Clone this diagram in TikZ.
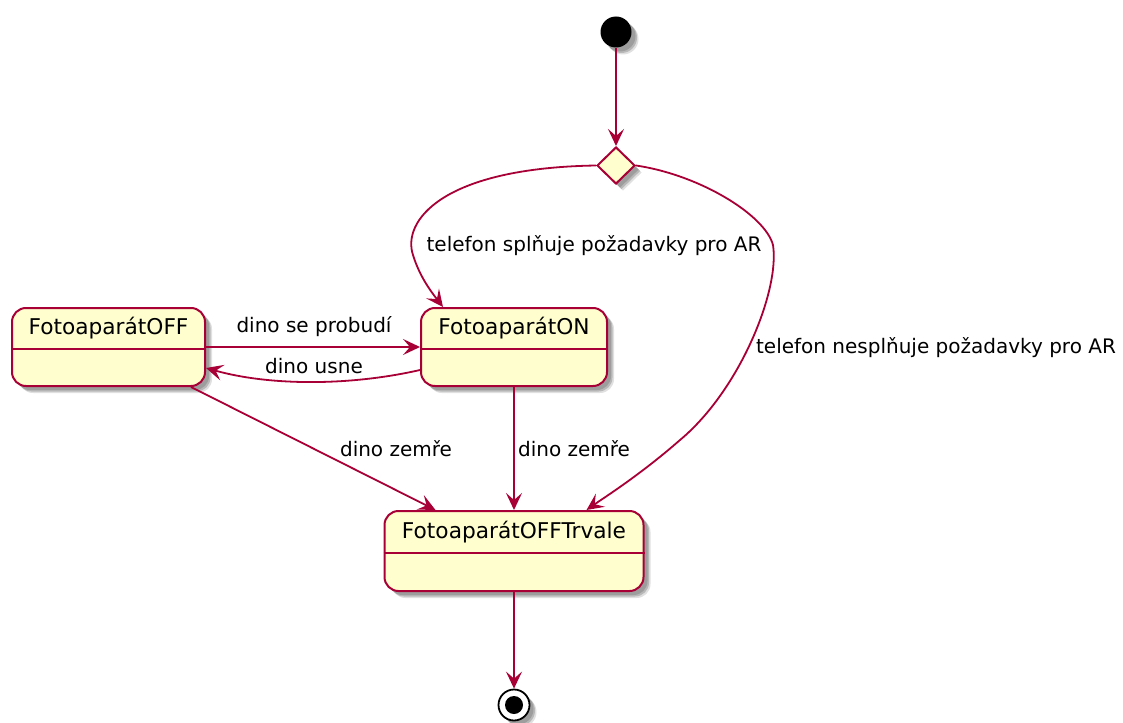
\documentclass[tikz,border=0pt]{standalone}
\usepackage{fontspec}
\setmainfont{DejaVu Sans}
\usetikzlibrary{arrows.meta,shadows,calc,shapes.geometric}
\definecolor{umlborder}{HTML}{A80036}
\definecolor{umlfill}{HTML}{FEFECE}
\tikzset{
  shade3d/.style={
    drop shadow={shadow xshift=7pt,shadow yshift=-7pt,opacity=0.12,fill=black},
    drop shadow={shadow xshift=5.5pt,shadow yshift=-5.5pt,opacity=0.18,fill=black},
    drop shadow={shadow xshift=4pt,shadow yshift=-4pt,opacity=0.15,fill=black}},
  statebox/.style={draw=umlborder,fill=umlfill,line width=2pt,rounded corners=14pt,
    inner sep=0pt,shade3d},
  statename/.style={font=\fontsize{21.7}{26}\selectfont,inner sep=0pt,anchor=center},
  divider/.style={draw=umlborder,line width=1.8pt},
  edge/.style={draw=umlborder,line width=1.8pt,
    -{Stealth[length=17pt,width=16pt,inset=7pt]}},
  elabel/.style={font=\fontsize{20}{24}\selectfont,inner sep=0pt,anchor=center},
  startdot/.style={circle,fill=black,minimum size=31pt,inner sep=0pt,shade3d},
  choice/.style={diamond,draw=umlborder,fill=umlfill,line width=2pt,inner sep=0pt,
    minimum width=38pt,minimum height=37pt,shade3d},
  enddot/.style={circle,draw=black,fill=white,line width=1.8pt,minimum size=31pt,inner sep=0pt,shade3d},
}
\begin{document}
\begin{tikzpicture}[x=1pt,y=-1pt]
\useasboundingbox (0,0) rectangle (1123,722);

% initial and final pseudo-states, decision
\node[startdot] (start) at (616,32) {};
\node[choice] (dec) at (616,165.5) {};
\node[enddot] (end) at (514,705) {};
\node[circle,fill=black,minimum size=18pt,inner sep=0pt] (endcore) at (end.center) {};

% states
\node[statebox,minimum width=193pt,minimum height=78pt] (off) at (108.5,347) {};
\node[statename] (offname) at (108.5,328.5) {FotoaparátOFF};
\draw[divider] (off.west |- 0,349) -- (off.east |- 0,349);

\node[statebox,minimum width=186pt,minimum height=78pt] (on) at (514,347) {};
\node[statename] (onname) at (514,328.5) {FotoaparátON};
\draw[divider] (on.west |- 0,349) -- (on.east |- 0,349);

\node[statebox,minimum width=259pt,minimum height=80pt] (trv) at (514,551) {};
\node[statename] (trvname) at (514,532) {FotoaparátOFFTrvale};
\draw[divider] (trv.west |- 0,553) -- (trv.east |- 0,553);

% transitions
\draw[edge] (start) -- (dec.north);

\draw[edge] (dec.west) .. controls (440,168) and (402,222) .. (413,255)
  .. controls (420,278) and (433,294) .. ($(on.north west)+(23,0)$);
\node[elabel] (lyes) at (594,246) {telefon splňuje požadavky pro AR};

\draw[edge] (dec.east) .. controls (700,175) and (765,215) .. (773,245)
  .. controls (780,290) and (740,390) .. (680,440)
  .. controls (640,475) and (605,497) .. ($(trv.north east)+(-58,0)$);
\node[elabel] (lno) at (936,348) {telefon nesplňuje požadavky pro AR};

\draw[edge] (off.east) -- (on.west);
\node[elabel] (lwake) at (314,327) {dino se probudí};

\draw[edge] ($(on.west)+(0,23)$) .. controls (350,386) and (270,386) .. ($(off.east)+(0,21)$);
\node[elabel] (lsleep) at (314,366) {dino usne};

\draw[edge] ($(off.south east)+(-15,0)$) -- ($(trv.north west)+(52,0)$);
\node[elabel] (ldie1) at (396,449) {dino zemře};

\draw[edge] (on.south) -- (trv.north);
\node[elabel] (ldie2) at (574,449) {dino zemře};

\draw[edge] (trv.south) -- (end.north);
\end{tikzpicture}
\end{document}
